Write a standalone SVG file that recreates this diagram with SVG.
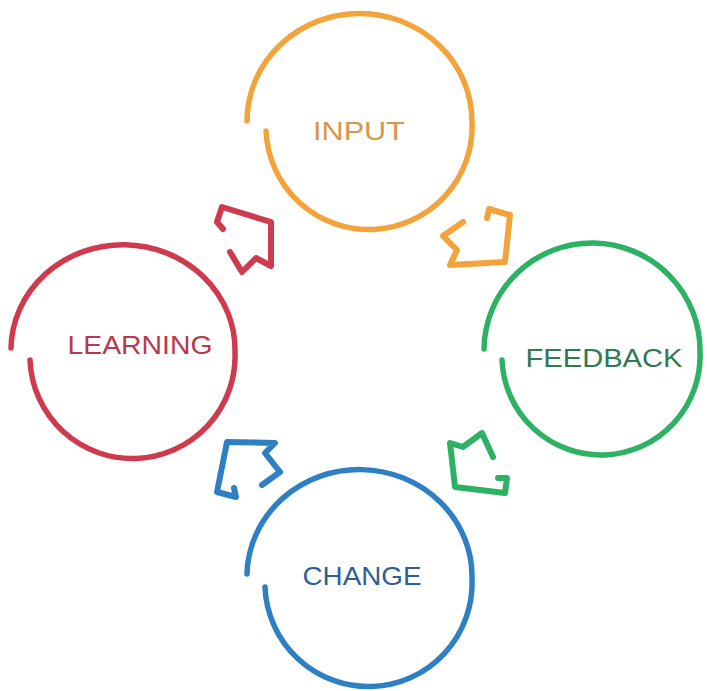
<svg xmlns="http://www.w3.org/2000/svg" width="707" height="691" viewBox="0 0 707 691">
<style>
.ring{fill:none;stroke-width:5.5;stroke-linecap:round}
.arr{fill:none;stroke-width:6;stroke-linecap:round;stroke-linejoin:round}
.lbl{font-family:"Liberation Sans","DejaVu Sans",sans-serif;font-size:26px;text-anchor:middle}
.o{stroke:#f2a33a}.r{stroke:#cf3a4e}.g{stroke:#2db163}.b{stroke:#2f80c3}
</style>
<rect width="707" height="691" fill="#ffffff"/>
<g id="input">
<path class="ring o" d="M266,131 A100,100 0 0 0 472,122 A100,96 0 0 0 247,121"/>
<text class="lbl" x="359" y="140" fill="#d8964a" textLength="92" lengthAdjust="spacingAndGlyphs">INPUT</text>
</g>
<g id="feedback">
<path class="ring g" d="M502,360 A90,90 0 0 0 700,352 A100,99.5 0 0 0 484,349"/>
<text class="lbl" x="604" y="367" fill="#2f7a52" textLength="157" lengthAdjust="spacingAndGlyphs">FEEDBACK</text>
</g>
<g id="change">
<path class="ring b" d="M265,587 A100,100 0 0 0 472,579 A100,95 0 0 0 247,574"/>
<text class="lbl" x="362" y="585" fill="#2e5f98" textLength="119" lengthAdjust="spacingAndGlyphs">CHANGE</text>
</g>
<g id="learning">
<path class="ring r" d="M30,360 A100,100 0 0 0 235,352 A100,94 0 0 0 11,348"/>
<text class="lbl" x="140" y="354" fill="#b8384c" textLength="145" lengthAdjust="spacingAndGlyphs">LEARNING</text>
</g>
<g id="connectors">
<polyline class="arr o" points="463,222 443,236 457,250 450,265 505,262 510,215 489,209 487,218"/>
<polyline class="arr g" points="493,457 482,433 463,447 450,443 455,487 505,493 507,478 498,478"/>
<polyline class="arr b" points="262,485 280,472 265,453 275,443 227,442 217,492 236,497 234,488"/>
<polyline class="arr r" points="230,252 242,272 256,258 271,266 271,222 222,207 217,222 223,229"/>
</g>
</svg>
